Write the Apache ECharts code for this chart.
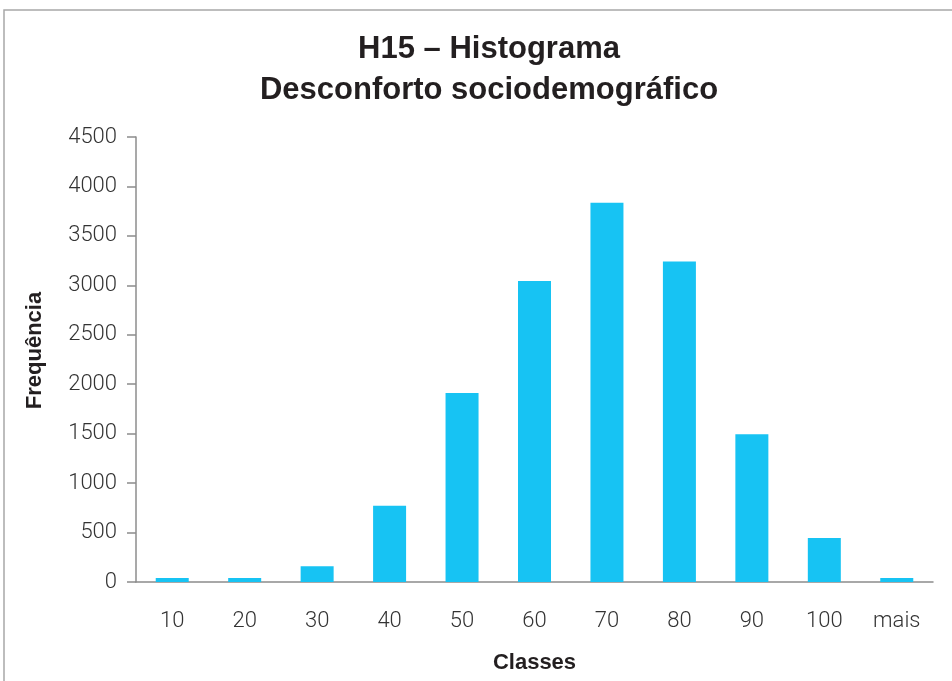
<!DOCTYPE html>
<html>
<head>
<meta charset="utf-8">
<script src="https://cdn.jsdelivr.net/npm/echarts@6/dist/echarts.min.js"></script>
<style>
    html, body { margin: 0; padding: 0; background: #fff; }
    #chart { width: 952px; height: 681px; }
</style>
</head>
<body>
<div id="chart"></div>
<script>
// classes do histograma
const classes = ['10', '20', '30', '40', '50', '60', '70', '80', '90', '100', 'mais']
// frequência de cada classe
const frequencias = [40, 40, 160, 770, 1910, 3045, 3835, 3240, 1495, 445, 40]
const yMin = 0
const yMax = 4500
const yStep = 500

const axisColor = '#8c8c8c'
const labelFont = 'Roboto, "Liberation Sans", sans-serif'
const boldFont = '"Liberation Sans", Arial, sans-serif'

const chart = echarts.init(document.getElementById('chart'))
const option = {
    backgroundColor: '#fff',
    animation: false,
    graphic: [{
        type: 'rect',
        shape: { x: 4, y: 10, width: 1000, height: 720 },
        style: { fill: 'none', stroke: '#a8a8a8', lineWidth: 1.5 },
        silent: true
    }],
    title: {
        text: 'H15 – Histograma\nDesconforto sociodemográfico',
        left: 484,
        top: 24,
        textAlign: 'center',
        textStyle: {
            fontFamily: boldFont,
            fontWeight: 'bold',
            fontSize: 31,
            lineHeight: 41,
            color: '#231f20'
        }
    },
    grid: {
        left: 136,
        right: 19,
        top: 137,
        bottom: 99,
        containLabel: false,
        outerBoundsMode: 'none'
    },
    xAxis: {
        type: 'category',
        data: classes,
        name: 'Classes',
        nameLocation: 'middle',
        nameGap: 70,
        nameTextStyle: {
            fontFamily: boldFont,
            fontWeight: 'bold',
            fontSize: 22,
            color: '#231f20'
        },
        axisLine: { lineStyle: { color: axisColor, width: 1.5 } },
        axisTick: {
            alignWithLabel: false,
            length: 13,
            lineStyle: { color: axisColor, width: 1.5 }
        },
        axisLabel: {
            margin: 28,
            fontFamily: labelFont,
            fontWeight: 300,
            fontSize: 22,
            color: '#333'
        }
    },
    yAxis: {
        type: 'value',
        min: yMin,
        max: yMax,
        interval: yStep,
        name: 'Frequência',
        nameLocation: 'middle',
        nameGap: 90,
        nameTextStyle: {
            fontFamily: boldFont,
            fontWeight: 'bold',
            fontSize: 22,
            color: '#231f20',
            padding: [0, 0, 0, 18]
        },
        splitLine: { show: false },
        axisLine: { show: true, lineStyle: { color: axisColor, width: 1.5 } },
        axisTick: {
            show: true,
            length: 9,
            lineStyle: { color: axisColor, width: 1.5 }
        },
        axisLabel: {
            margin: 19,
            formatter: v => String(v),
            fontFamily: labelFont,
            fontWeight: 300,
            fontSize: 22,
            color: '#333'
        }
    },
    series: [{
        type: 'bar',
        data: frequencias,
        barWidth: 33,
        itemStyle: { color: '#17c3f3' }
    }]
}
chart.setOption(option)
</script>
</body>
</html>
